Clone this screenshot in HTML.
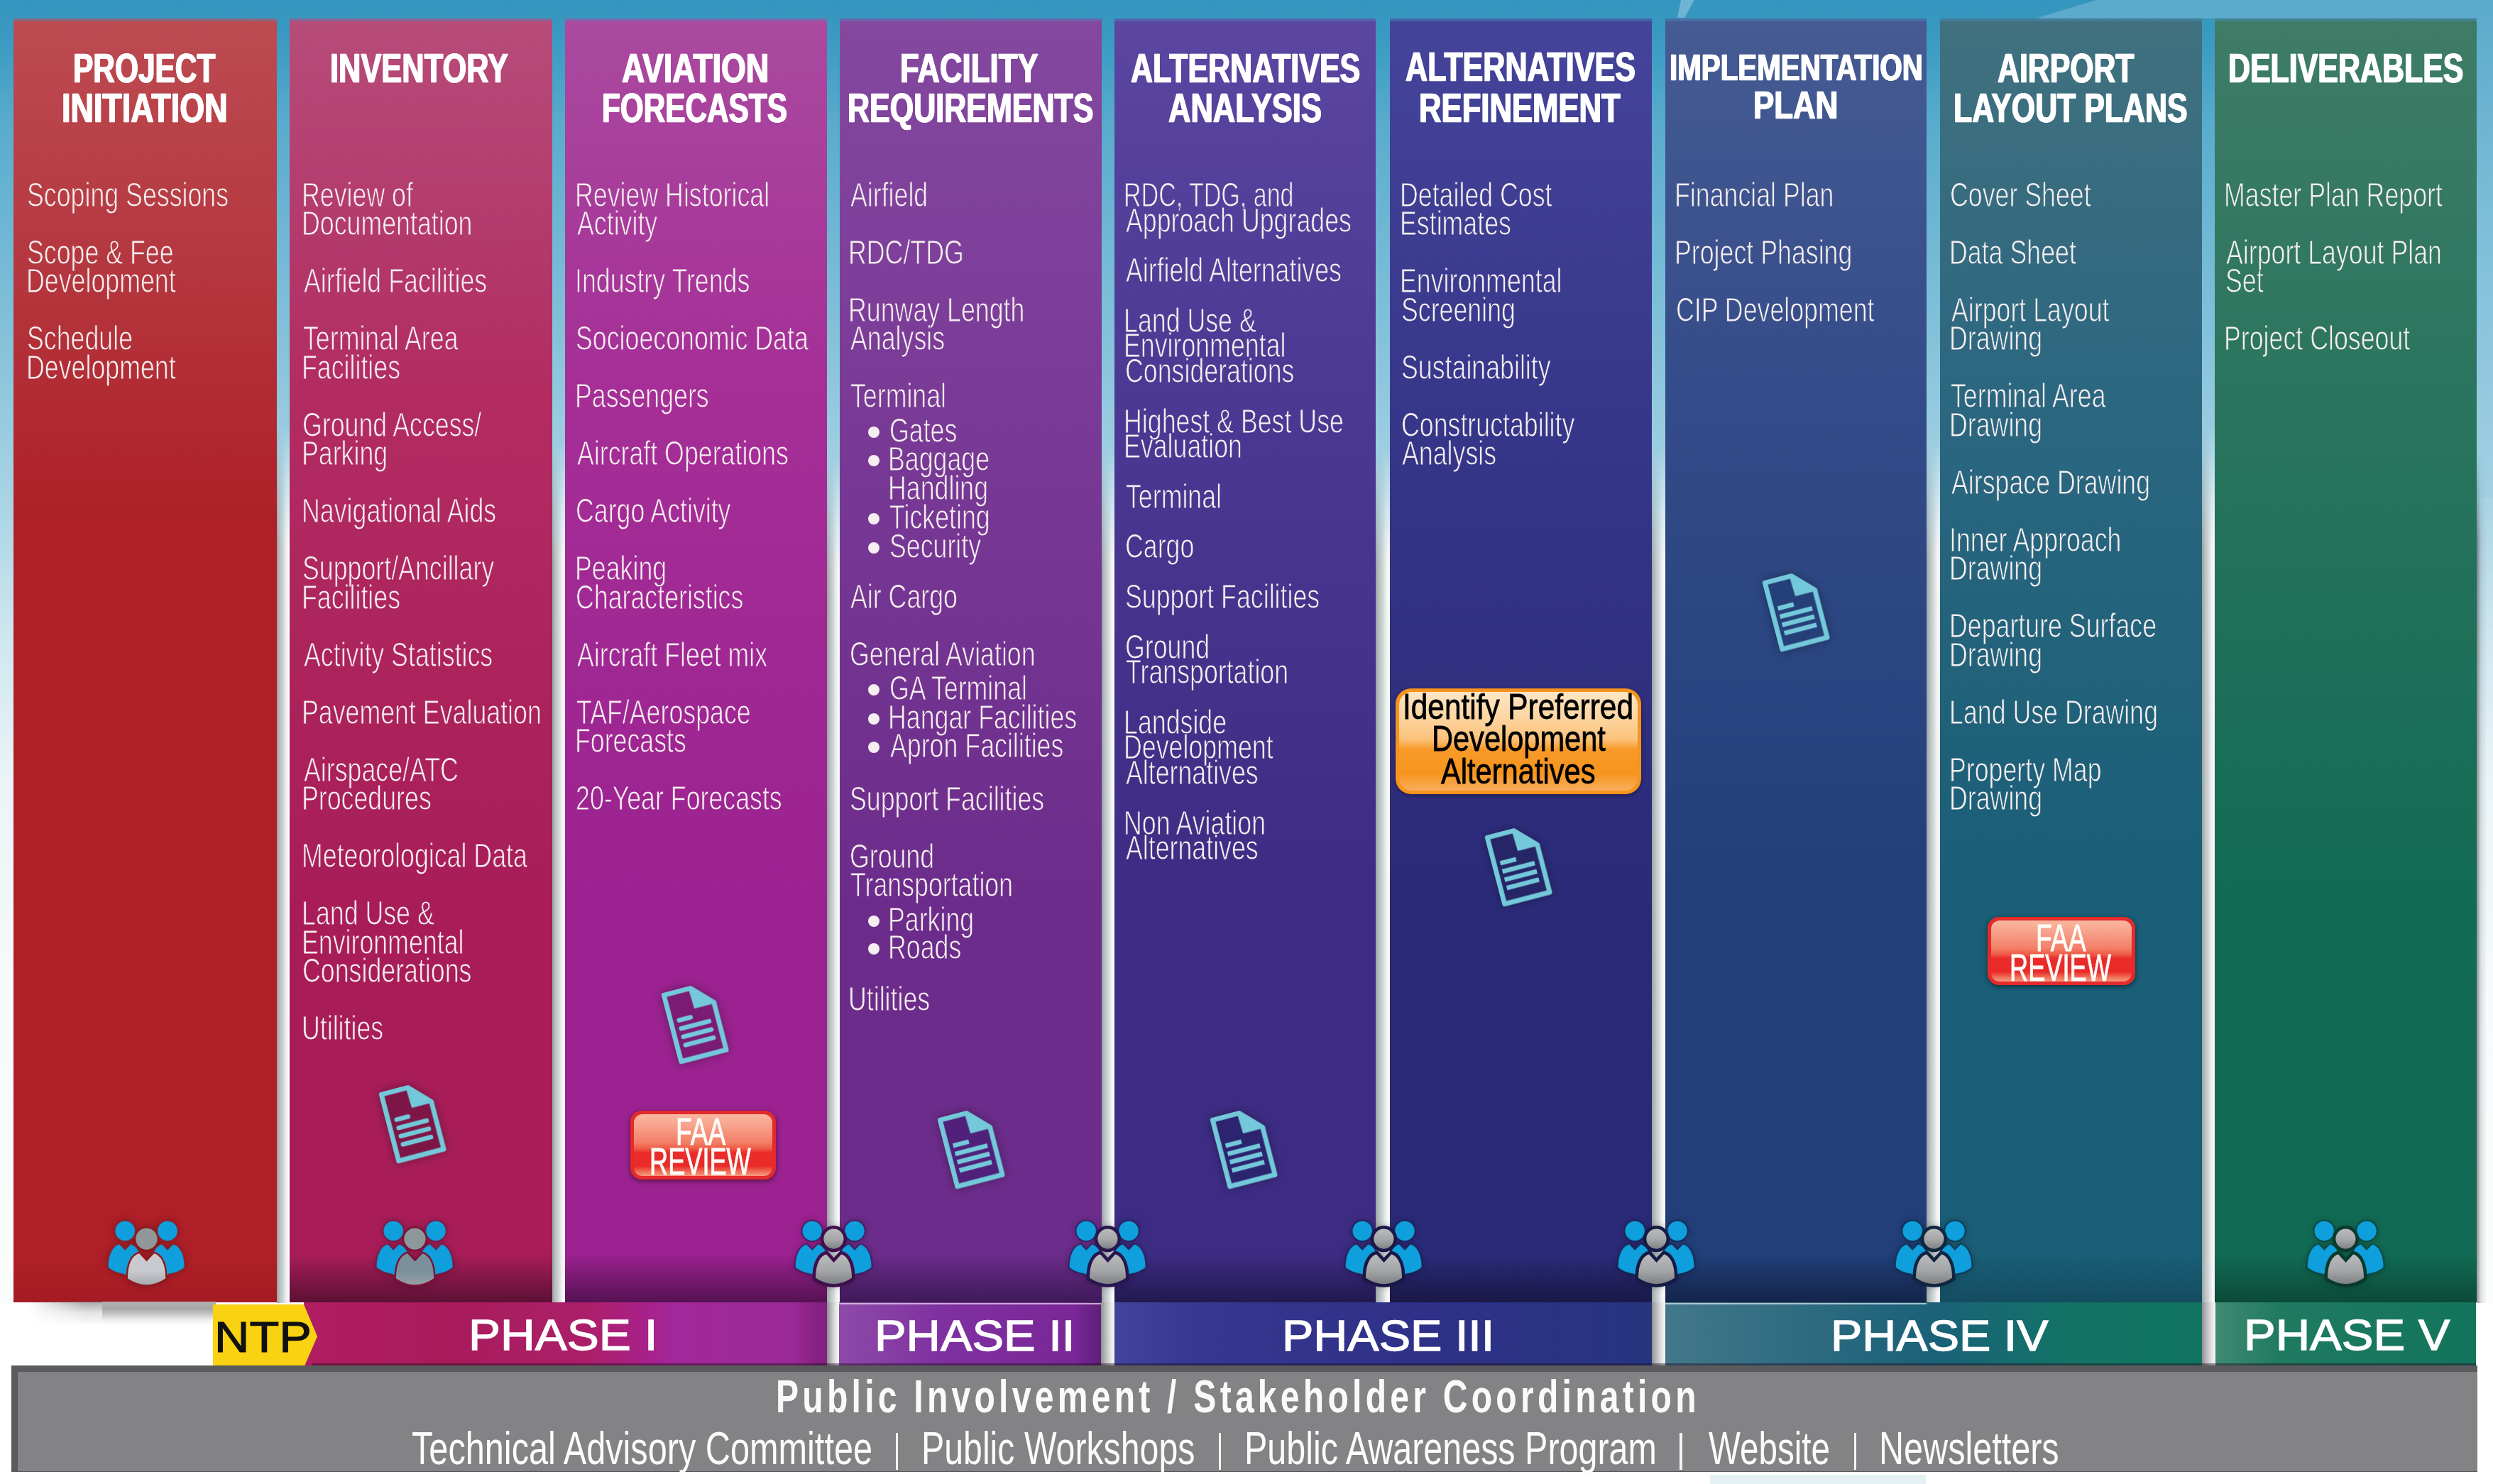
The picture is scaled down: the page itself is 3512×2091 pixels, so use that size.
<!DOCTYPE html><html><head><meta charset="utf-8"><style>
html,body{margin:0;padding:0;}
body{width:3512px;height:2091px;position:relative;overflow:hidden;background:#fff;font-family:"Liberation Sans", sans-serif;}
.t{position:absolute;white-space:nowrap;line-height:1;transform-origin:0 0;}
.a{position:absolute;}
</style></head><body>
<div class="a" style="left:0;top:0;width:3512px;height:1836px;background:linear-gradient(180deg,#3495be 0px,#3898c0 40px,#45a1c6 100px,#58abcc 170px,#6bb5d3 300px,#80c0d9 450px,#95cadf 580px,#abd5e5 720px,#cfe7f0 900px,#eaf4f7 1100px,#f6fafb 1400px,#fbfcfc 1836px);"></div>
<div class="a" style="left:0;top:0;width:3512px;height:700px;background:linear-gradient(180deg,#5aaacb,#7cbdd8 300px,#a2d0e2 700px);clip-path:polygon(2953px 0,3512px 0,3512px 700px,3480px 700px,3480px 26px,2868px 26px);"></div>
<div class="a" style="left:0;top:0;width:2400px;height:26px;background:#6db5d3;clip-path:polygon(2368px 0,2387px 0,2373px 25px,2363px 25px);"></div>
<div class="a" style="left:390px;top:600px;width:18px;height:1236px;background:linear-gradient(90deg,#9aa3a3 0%,#b9c1c1 25%,#cfd6d6 50%,#eceeee 72%,#fdfafc 92%,#f4f0f2 100%);mask-image:linear-gradient(180deg,transparent 0px,#000 170px);-webkit-mask-image:linear-gradient(180deg,transparent 0px,#000 170px);"></div>
<div class="a" style="left:778px;top:620px;width:18px;height:1216px;background:linear-gradient(90deg,#9aa3a3 0%,#b9c1c1 25%,#cfd6d6 50%,#eceeee 72%,#fdfafc 92%,#f4f0f2 100%);mask-image:linear-gradient(180deg,transparent 0px,#000 170px);-webkit-mask-image:linear-gradient(180deg,transparent 0px,#000 170px);"></div>
<div class="a" style="left:1165px;top:640px;width:18px;height:1285px;background:linear-gradient(90deg,#9aa3a3 0%,#b9c1c1 25%,#cfd6d6 50%,#eceeee 72%,#fdfafc 92%,#f4f0f2 100%);mask-image:linear-gradient(180deg,transparent 0px,#000 170px);-webkit-mask-image:linear-gradient(180deg,transparent 0px,#000 170px);"></div>
<div class="a" style="left:1552px;top:630px;width:18px;height:1295px;background:linear-gradient(90deg,#9aa3a3 0%,#b9c1c1 25%,#cfd6d6 50%,#eceeee 72%,#fdfafc 92%,#f4f0f2 100%);mask-image:linear-gradient(180deg,transparent 0px,#000 170px);-webkit-mask-image:linear-gradient(180deg,transparent 0px,#000 170px);"></div>
<div class="a" style="left:1938px;top:630px;width:20px;height:1206px;background:linear-gradient(90deg,#9aa3a3 0%,#b9c1c1 25%,#cfd6d6 50%,#eceeee 72%,#fdfafc 92%,#f4f0f2 100%);mask-image:linear-gradient(180deg,transparent 0px,#000 170px);-webkit-mask-image:linear-gradient(180deg,transparent 0px,#000 170px);"></div>
<div class="a" style="left:2327px;top:630px;width:19px;height:1295px;background:linear-gradient(90deg,#9aa3a3 0%,#b9c1c1 25%,#cfd6d6 50%,#eceeee 72%,#fdfafc 92%,#f4f0f2 100%);mask-image:linear-gradient(180deg,transparent 0px,#000 170px);-webkit-mask-image:linear-gradient(180deg,transparent 0px,#000 170px);"></div>
<div class="a" style="left:2714px;top:620px;width:19px;height:1216px;background:linear-gradient(90deg,#9aa3a3 0%,#b9c1c1 25%,#cfd6d6 50%,#eceeee 72%,#fdfafc 92%,#f4f0f2 100%);mask-image:linear-gradient(180deg,transparent 0px,#000 170px);-webkit-mask-image:linear-gradient(180deg,transparent 0px,#000 170px);"></div>
<div class="a" style="left:3102px;top:600px;width:18px;height:1325px;background:linear-gradient(90deg,#9aa3a3 0%,#b9c1c1 25%,#cfd6d6 50%,#eceeee 72%,#fdfafc 92%,#f4f0f2 100%);mask-image:linear-gradient(180deg,transparent 0px,#000 170px);-webkit-mask-image:linear-gradient(180deg,transparent 0px,#000 170px);"></div>
<div class="a" style="left:3489px;top:640px;width:14px;height:1196px;background:linear-gradient(90deg,rgba(60,60,60,0.55),rgba(120,120,120,0.2) 6px,rgba(255,255,255,0) 14px);-webkit-mask-image:linear-gradient(180deg,transparent 0,#000 120px);mask-image:linear-gradient(180deg,transparent 0,#000 120px);"></div>
<div class="a" style="left:19px;top:26px;width:371px;height:1809px;background:linear-gradient(180deg,#bd4b52 0px,#b53840 330px,#ae1f27 720px,#ae1f27 1749px,#a51b23 1809px);"></div>
<div class="a" style="left:408px;top:26px;width:370px;height:1809px;background:linear-gradient(180deg,#b64c79 0px,#b22c62 520px,#a81d58 1250px,#a81d58 1741px,#5c1034 1809px);"></div>
<div class="a" style="left:796px;top:26px;width:369px;height:1809px;background:linear-gradient(180deg,#aa4a9f 0px,#a52e97 520px,#9b2290 1250px,#9b2290 1741px,#561252 1809px);"></div>
<div class="a" style="left:1183px;top:26px;width:369px;height:1809px;background:linear-gradient(180deg,#84489f 0px,#7a3b97 520px,#6c2c8b 1250px,#6c2c8b 1741px,#3e1a58 1809px);"></div>
<div class="a" style="left:1570px;top:26px;width:368px;height:1809px;background:linear-gradient(180deg,#5b46a1 0px,#4b3993 520px,#3d2c84 1250px,#3d2c84 1741px,#22194f 1809px);"></div>
<div class="a" style="left:1958px;top:26px;width:369px;height:1809px;background:linear-gradient(180deg,#45449b 0px,#37378b 520px,#2b2a79 1250px,#2b2a79 1741px,#191846 1809px);"></div>
<div class="a" style="left:2346px;top:26px;width:368px;height:1809px;background:linear-gradient(180deg,#465b93 0px,#344c89 520px,#223f7a 1250px,#223f7a 1741px,#14244a 1809px);"></div>
<div class="a" style="left:2733px;top:26px;width:369px;height:1809px;background:linear-gradient(180deg,#41717f 0px,#2c6780 520px,#1a5e77 1250px,#1a5e77 1741px,#144c60 1809px);"></div>
<div class="a" style="left:3120px;top:26px;width:369px;height:1809px;background:linear-gradient(180deg,#3f7c68 0px,#2b755e 520px,#116b54 1250px,#116b54 1741px,#0c4a38 1809px);"></div>
<div class="a" style="left:19px;top:26px;width:371px;height:4px;background:rgba(70,140,190,0.45);"></div>
<div class="a" style="left:408px;top:26px;width:370px;height:4px;background:rgba(70,140,190,0.45);"></div>
<div class="a" style="left:796px;top:26px;width:369px;height:4px;background:rgba(70,140,190,0.45);"></div>
<div class="a" style="left:1183px;top:26px;width:369px;height:4px;background:rgba(70,140,190,0.45);"></div>
<div class="a" style="left:1570px;top:26px;width:368px;height:4px;background:rgba(70,140,190,0.45);"></div>
<div class="a" style="left:1958px;top:26px;width:369px;height:4px;background:rgba(70,140,190,0.45);"></div>
<div class="a" style="left:2346px;top:26px;width:368px;height:4px;background:rgba(70,140,190,0.45);"></div>
<div class="a" style="left:2733px;top:26px;width:369px;height:4px;background:rgba(70,140,190,0.45);"></div>
<div class="a" style="left:3120px;top:26px;width:369px;height:4px;background:rgba(70,140,190,0.45);"></div>
<div class="a" style="left:40px;top:1834px;width:110px;height:40px;background:linear-gradient(180deg,rgba(110,110,110,0.6),rgba(150,150,150,0.25) 16px,rgba(255,255,255,0) 34px);-webkit-mask-image:linear-gradient(90deg,transparent,#000 80px);mask-image:linear-gradient(90deg,transparent,#000 80px);"></div>
<div class="a" style="left:144px;top:1834px;width:160px;height:38px;background:linear-gradient(180deg,#b5b0b2 0px,#a5a8a6 10px,#c8c8c8 18px,#efefef 26px,#ffffff 34px);"></div>
<div class="t" style="left:102.8px;top:66.9px;font-size:58px;font-weight:bold;color:#ffffff;transform:scaleX(0.7316);text-shadow:1px 0 0 #fff,-1px 0 0 #fff;-webkit-text-stroke:0.5px #fff;">PROJECT</div>
<div class="t" style="left:87.0px;top:122.9px;font-size:58px;font-weight:bold;color:#ffffff;transform:scaleX(0.7738);text-shadow:1px 0 0 #fff,-1px 0 0 #fff;-webkit-text-stroke:0.5px #fff;">INITIATION</div>
<div class="t" style="left:464.9px;top:67.4px;font-size:58px;font-weight:bold;color:#ffffff;transform:scaleX(0.7485);text-shadow:1px 0 0 #fff,-1px 0 0 #fff;-webkit-text-stroke:0.5px #fff;">INVENTORY</div>
<div class="t" style="left:875.6px;top:66.9px;font-size:58px;font-weight:bold;color:#ffffff;transform:scaleX(0.7716);text-shadow:1px 0 0 #fff,-1px 0 0 #fff;-webkit-text-stroke:0.5px #fff;">AVIATION</div>
<div class="t" style="left:847.7px;top:122.9px;font-size:58px;font-weight:bold;color:#ffffff;transform:scaleX(0.7293);text-shadow:1px 0 0 #fff,-1px 0 0 #fff;-webkit-text-stroke:0.5px #fff;">FORECASTS</div>
<div class="t" style="left:1268.0px;top:66.9px;font-size:58px;font-weight:bold;color:#ffffff;transform:scaleX(0.7549);text-shadow:1px 0 0 #fff,-1px 0 0 #fff;-webkit-text-stroke:0.5px #fff;">FACILITY</div>
<div class="t" style="left:1194.2px;top:122.9px;font-size:58px;font-weight:bold;color:#ffffff;transform:scaleX(0.7414);text-shadow:1px 0 0 #fff,-1px 0 0 #fff;-webkit-text-stroke:0.5px #fff;">REQUIREMENTS</div>
<div class="t" style="left:1592.6px;top:66.9px;font-size:58px;font-weight:bold;color:#ffffff;transform:scaleX(0.7413);text-shadow:1px 0 0 #fff,-1px 0 0 #fff;-webkit-text-stroke:0.5px #fff;">ALTERNATIVES</div>
<div class="t" style="left:1645.9px;top:122.9px;font-size:58px;font-weight:bold;color:#ffffff;transform:scaleX(0.7498);text-shadow:1px 0 0 #fff,-1px 0 0 #fff;-webkit-text-stroke:0.5px #fff;">ANALYSIS</div>
<div class="t" style="left:1979.5px;top:64.9px;font-size:58px;font-weight:bold;color:#ffffff;transform:scaleX(0.7432);text-shadow:1px 0 0 #fff,-1px 0 0 #fff;-webkit-text-stroke:0.5px #fff;">ALTERNATIVES</div>
<div class="t" style="left:1998.9px;top:122.9px;font-size:58px;font-weight:bold;color:#ffffff;transform:scaleX(0.7527);text-shadow:1px 0 0 #fff,-1px 0 0 #fff;-webkit-text-stroke:0.5px #fff;">REFINEMENT</div>
<div class="t" style="left:2351.7px;top:68.7px;font-size:52px;font-weight:bold;color:#ffffff;transform:scaleX(0.7753);text-shadow:1px 0 0 #fff,-1px 0 0 #fff;-webkit-text-stroke:0.5px #fff;">IMPLEMENTATION</div>
<div class="t" style="left:2469.7px;top:120.0px;font-size:56px;font-weight:bold;color:#ffffff;transform:scaleX(0.7821);text-shadow:1px 0 0 #fff,-1px 0 0 #fff;-webkit-text-stroke:0.5px #fff;">PLAN</div>
<div class="t" style="left:2814.0px;top:66.9px;font-size:58px;font-weight:bold;color:#ffffff;transform:scaleX(0.7375);text-shadow:1px 0 0 #fff,-1px 0 0 #fff;-webkit-text-stroke:0.5px #fff;">AIRPORT</div>
<div class="t" style="left:2752.4px;top:122.9px;font-size:58px;font-weight:bold;color:#ffffff;transform:scaleX(0.7391);text-shadow:1px 0 0 #fff,-1px 0 0 #fff;-webkit-text-stroke:0.5px #fff;">LAYOUT PLANS</div>
<div class="t" style="left:3139.0px;top:66.9px;font-size:58px;font-weight:bold;color:#ffffff;transform:scaleX(0.7398);text-shadow:1px 0 0 #fff,-1px 0 0 #fff;-webkit-text-stroke:0.5px #fff;">DELIVERABLES</div>
<div class="t" style="left:38.3px;top:250.8px;font-size:48px;color:#f6eff0;transform:scaleX(0.7446);-webkit-text-stroke:1.0px #b73d44;">Scoping Sessions</div>
<div class="t" style="left:38.3px;top:331.8px;font-size:48px;color:#f6eff0;transform:scaleX(0.7446);-webkit-text-stroke:1.0px #b53840;">Scope &amp; Fee</div>
<div class="t" style="left:36.8px;top:372.3px;font-size:48px;color:#f6eff0;transform:scaleX(0.7446);-webkit-text-stroke:1.0px #b4353d;">Development</div>
<div class="t" style="left:38.3px;top:453.3px;font-size:48px;color:#f6eff0;transform:scaleX(0.7446);-webkit-text-stroke:1.0px #b33038;">Schedule</div>
<div class="t" style="left:36.8px;top:493.8px;font-size:48px;color:#f6eff0;transform:scaleX(0.7446);-webkit-text-stroke:1.0px #b22e36;">Development</div>
<div class="t" style="left:424.5px;top:250.8px;font-size:48px;color:#f6eff0;transform:scaleX(0.7446);-webkit-text-stroke:1.0px #b43d6e;">Review of</div>
<div class="t" style="left:424.5px;top:291.3px;font-size:48px;color:#f6eff0;transform:scaleX(0.7446);-webkit-text-stroke:1.0px #b43a6c;">Documentation</div>
<div class="t" style="left:427.5px;top:372.3px;font-size:48px;color:#f6eff0;transform:scaleX(0.7446);-webkit-text-stroke:1.0px #b33569;">Airfield Facilities</div>
<div class="t" style="left:426.8px;top:453.3px;font-size:48px;color:#f6eff0;transform:scaleX(0.7446);-webkit-text-stroke:1.0px #b33065;">Terminal Area</div>
<div class="t" style="left:424.5px;top:493.8px;font-size:48px;color:#f6eff0;transform:scaleX(0.7446);-webkit-text-stroke:1.0px #b22e63;">Facilities</div>
<div class="t" style="left:426.0px;top:574.8px;font-size:48px;color:#f6eff0;transform:scaleX(0.7446);-webkit-text-stroke:1.0px #b12b61;">Ground Access/</div>
<div class="t" style="left:424.5px;top:615.3px;font-size:48px;color:#f6eff0;transform:scaleX(0.7446);-webkit-text-stroke:1.0px #b12a61;">Parking</div>
<div class="t" style="left:424.5px;top:696.3px;font-size:48px;color:#f6eff0;transform:scaleX(0.7446);-webkit-text-stroke:1.0px #b02860;">Navigational Aids</div>
<div class="t" style="left:426.0px;top:777.3px;font-size:48px;color:#f6eff0;transform:scaleX(0.7446);-webkit-text-stroke:1.0px #ae275e;">Support/Ancillary</div>
<div class="t" style="left:424.5px;top:817.8px;font-size:48px;color:#f6eff0;transform:scaleX(0.7446);-webkit-text-stroke:1.0px #ae265e;">Facilities</div>
<div class="t" style="left:427.5px;top:898.8px;font-size:48px;color:#f6eff0;transform:scaleX(0.7446);-webkit-text-stroke:1.0px #ad245d;">Activity Statistics</div>
<div class="t" style="left:424.5px;top:979.8px;font-size:48px;color:#f6eff0;transform:scaleX(0.7446);-webkit-text-stroke:1.0px #ac235c;">Pavement Evaluation</div>
<div class="t" style="left:427.5px;top:1060.8px;font-size:48px;color:#f6eff0;transform:scaleX(0.7446);-webkit-text-stroke:1.0px #ab215b;">Airspace/ATC</div>
<div class="t" style="left:424.5px;top:1101.3px;font-size:48px;color:#f6eff0;transform:scaleX(0.7446);-webkit-text-stroke:1.0px #aa205a;">Procedures</div>
<div class="t" style="left:424.5px;top:1182.3px;font-size:48px;color:#f6eff0;transform:scaleX(0.7446);-webkit-text-stroke:1.0px #a91e59;">Meteorological Data</div>
<div class="t" style="left:424.5px;top:1263.3px;font-size:48px;color:#f6eff0;transform:scaleX(0.7446);-webkit-text-stroke:1.0px #a81d58;">Land Use &amp;</div>
<div class="t" style="left:424.5px;top:1303.8px;font-size:48px;color:#f6eff0;transform:scaleX(0.7446);-webkit-text-stroke:1.0px #a81d58;">Environmental</div>
<div class="t" style="left:426.0px;top:1344.3px;font-size:48px;color:#f6eff0;transform:scaleX(0.7446);-webkit-text-stroke:1.0px #a81d58;">Considerations</div>
<div class="t" style="left:424.5px;top:1425.3px;font-size:48px;color:#f6eff0;transform:scaleX(0.7446);-webkit-text-stroke:1.0px #a81d58;">Utilities</div>
<div class="t" style="left:809.6px;top:250.8px;font-size:48px;color:#f6eff0;transform:scaleX(0.7446);-webkit-text-stroke:1.0px #a83d9b;">Review Historical</div>
<div class="t" style="left:812.6px;top:291.3px;font-size:48px;color:#f6eff0;transform:scaleX(0.7446);-webkit-text-stroke:1.0px #a73a9b;">Activity</div>
<div class="t" style="left:809.6px;top:372.3px;font-size:48px;color:#f6eff0;transform:scaleX(0.7446);-webkit-text-stroke:1.0px #a63699;">Industry Trends</div>
<div class="t" style="left:811.1px;top:453.3px;font-size:48px;color:#f6eff0;transform:scaleX(0.7446);-webkit-text-stroke:1.0px #a63298;">Socioeconomic Data</div>
<div class="t" style="left:809.6px;top:534.3px;font-size:48px;color:#f6eff0;transform:scaleX(0.7446);-webkit-text-stroke:1.0px #a52e97;">Passengers</div>
<div class="t" style="left:812.6px;top:615.3px;font-size:48px;color:#f6eff0;transform:scaleX(0.7446);-webkit-text-stroke:1.0px #a42c96;">Aircraft Operations</div>
<div class="t" style="left:811.1px;top:696.3px;font-size:48px;color:#f6eff0;transform:scaleX(0.7446);-webkit-text-stroke:1.0px #a32b95;">Cargo Activity</div>
<div class="t" style="left:809.6px;top:777.3px;font-size:48px;color:#f6eff0;transform:scaleX(0.7446);-webkit-text-stroke:1.0px #a12a95;">Peaking</div>
<div class="t" style="left:811.1px;top:817.8px;font-size:48px;color:#f6eff0;transform:scaleX(0.7446);-webkit-text-stroke:1.0px #a12994;">Characteristics</div>
<div class="t" style="left:812.6px;top:898.8px;font-size:48px;color:#f6eff0;transform:scaleX(0.7446);-webkit-text-stroke:1.0px #a02893;">Aircraft Fleet mix</div>
<div class="t" style="left:811.9px;top:979.8px;font-size:48px;color:#f6eff0;transform:scaleX(0.7446);-webkit-text-stroke:1.0px #9f2693;">TAF/Aerospace</div>
<div class="t" style="left:809.6px;top:1020.3px;font-size:48px;color:#f6eff0;transform:scaleX(0.7446);-webkit-text-stroke:1.0px #9e2692;">Forecasts</div>
<div class="t" style="left:811.1px;top:1101.3px;font-size:48px;color:#f6eff0;transform:scaleX(0.7446);-webkit-text-stroke:1.0px #9d2491;">20-Year Forecasts</div>
<div class="t" style="left:1583.4px;top:251.2px;font-size:48px;color:#f6eff0;transform:scaleX(0.7088);-webkit-text-stroke:1.0px #53409a;">RDC, TDG, and</div>
<div class="t" style="left:1586.2px;top:286.5px;font-size:48px;color:#f6eff0;transform:scaleX(0.7446);-webkit-text-stroke:1.0px #523f99;">Approach Upgrades</div>
<div class="t" style="left:1586.2px;top:357.3px;font-size:48px;color:#f6eff0;transform:scaleX(0.7446);-webkit-text-stroke:1.0px #503d97;">Airfield Alternatives</div>
<div class="t" style="left:1583.2px;top:428.1px;font-size:48px;color:#f6eff0;transform:scaleX(0.7446);-webkit-text-stroke:1.0px #4e3b95;">Land Use &amp;</div>
<div class="t" style="left:1583.2px;top:463.4px;font-size:48px;color:#f6eff0;transform:scaleX(0.7446);-webkit-text-stroke:1.0px #4d3a95;">Environmental</div>
<div class="t" style="left:1584.7px;top:498.7px;font-size:48px;color:#f6eff0;transform:scaleX(0.7446);-webkit-text-stroke:1.0px #4c3a94;">Considerations</div>
<div class="t" style="left:1583.2px;top:569.5px;font-size:48px;color:#f6eff0;transform:scaleX(0.7446);-webkit-text-stroke:1.0px #4a3892;">Highest &amp; Best Use</div>
<div class="t" style="left:1583.2px;top:604.8px;font-size:48px;color:#f6eff0;transform:scaleX(0.7446);-webkit-text-stroke:1.0px #493791;">Evaluation</div>
<div class="t" style="left:1585.5px;top:675.6px;font-size:48px;color:#f6eff0;transform:scaleX(0.7446);-webkit-text-stroke:1.0px #483690;">Terminal</div>
<div class="t" style="left:1584.7px;top:746.4px;font-size:48px;color:#f6eff0;transform:scaleX(0.7446);-webkit-text-stroke:1.0px #47358e;">Cargo</div>
<div class="t" style="left:1584.7px;top:817.2px;font-size:48px;color:#f6eff0;transform:scaleX(0.7446);-webkit-text-stroke:1.0px #45348d;">Support Facilities</div>
<div class="t" style="left:1584.7px;top:888.0px;font-size:48px;color:#f6eff0;transform:scaleX(0.7446);-webkit-text-stroke:1.0px #44328b;">Ground</div>
<div class="t" style="left:1585.5px;top:923.3px;font-size:48px;color:#f6eff0;transform:scaleX(0.7446);-webkit-text-stroke:1.0px #43328b;">Transportation</div>
<div class="t" style="left:1583.2px;top:994.1px;font-size:48px;color:#f6eff0;transform:scaleX(0.7446);-webkit-text-stroke:1.0px #423189;">Landside</div>
<div class="t" style="left:1583.2px;top:1029.4px;font-size:48px;color:#f6eff0;transform:scaleX(0.7446);-webkit-text-stroke:1.0px #413089;">Development</div>
<div class="t" style="left:1586.2px;top:1064.7px;font-size:48px;color:#f6eff0;transform:scaleX(0.7446);-webkit-text-stroke:1.0px #412f88;">Alternatives</div>
<div class="t" style="left:1583.2px;top:1135.5px;font-size:48px;color:#f6eff0;transform:scaleX(0.7446);-webkit-text-stroke:1.0px #3f2e86;">Non Aviation</div>
<div class="t" style="left:1586.2px;top:1170.8px;font-size:48px;color:#f6eff0;transform:scaleX(0.7446);-webkit-text-stroke:1.0px #3f2d86;">Alternatives</div>
<div class="t" style="left:1972.2px;top:250.8px;font-size:48px;color:#f6eff0;transform:scaleX(0.7446);-webkit-text-stroke:1.0px #3e3e93;">Detailed Cost</div>
<div class="t" style="left:1972.2px;top:291.3px;font-size:48px;color:#f6eff0;transform:scaleX(0.7446);-webkit-text-stroke:1.0px #3d3d92;">Estimates</div>
<div class="t" style="left:1972.2px;top:372.3px;font-size:48px;color:#f6eff0;transform:scaleX(0.7446);-webkit-text-stroke:1.0px #3b3b90;">Environmental</div>
<div class="t" style="left:1973.7px;top:412.8px;font-size:48px;color:#f6eff0;transform:scaleX(0.7446);-webkit-text-stroke:1.0px #3a3a8e;">Screening</div>
<div class="t" style="left:1973.7px;top:493.8px;font-size:48px;color:#f6eff0;transform:scaleX(0.7446);-webkit-text-stroke:1.0px #38388c;">Sustainability</div>
<div class="t" style="left:1973.7px;top:574.8px;font-size:48px;color:#f6eff0;transform:scaleX(0.7446);-webkit-text-stroke:1.0px #36368a;">Constructability</div>
<div class="t" style="left:1975.2px;top:615.3px;font-size:48px;color:#f6eff0;transform:scaleX(0.7446);-webkit-text-stroke:1.0px #353589;">Analysis</div>
<div class="t" style="left:2359.0px;top:250.8px;font-size:48px;color:#f6eff0;transform:scaleX(0.7446);-webkit-text-stroke:1.0px #3d548e;">Financial Plan</div>
<div class="t" style="left:2359.0px;top:331.8px;font-size:48px;color:#f6eff0;transform:scaleX(0.7446);-webkit-text-stroke:1.0px #3b518d;">Project Phasing</div>
<div class="t" style="left:2360.5px;top:412.8px;font-size:48px;color:#f6eff0;transform:scaleX(0.7446);-webkit-text-stroke:1.0px #384f8b;">CIP Development</div>
<div class="t" style="left:2747.4px;top:250.8px;font-size:48px;color:#f6eff0;transform:scaleX(0.7446);-webkit-text-stroke:1.0px #376c7f;">Cover Sheet</div>
<div class="t" style="left:2745.9px;top:331.8px;font-size:48px;color:#f6eff0;transform:scaleX(0.7446);-webkit-text-stroke:1.0px #346b80;">Data Sheet</div>
<div class="t" style="left:2748.9px;top:412.8px;font-size:48px;color:#f6eff0;transform:scaleX(0.7446);-webkit-text-stroke:1.0px #306980;">Airport Layout</div>
<div class="t" style="left:2745.9px;top:453.3px;font-size:48px;color:#f6eff0;transform:scaleX(0.7446);-webkit-text-stroke:1.0px #2f6880;">Drawing</div>
<div class="t" style="left:2748.2px;top:534.3px;font-size:48px;color:#f6eff0;transform:scaleX(0.7446);-webkit-text-stroke:1.0px #2c6780;">Terminal Area</div>
<div class="t" style="left:2745.9px;top:574.8px;font-size:48px;color:#f6eff0;transform:scaleX(0.7446);-webkit-text-stroke:1.0px #2b667f;">Drawing</div>
<div class="t" style="left:2748.9px;top:655.8px;font-size:48px;color:#f6eff0;transform:scaleX(0.7446);-webkit-text-stroke:1.0px #29657e;">Airspace Drawing</div>
<div class="t" style="left:2745.9px;top:736.8px;font-size:48px;color:#f6eff0;transform:scaleX(0.7446);-webkit-text-stroke:1.0px #27647d;">Inner Approach</div>
<div class="t" style="left:2745.9px;top:777.3px;font-size:48px;color:#f6eff0;transform:scaleX(0.7446);-webkit-text-stroke:1.0px #26647d;">Drawing</div>
<div class="t" style="left:2745.9px;top:858.3px;font-size:48px;color:#f6eff0;transform:scaleX(0.7446);-webkit-text-stroke:1.0px #24637c;">Departure Surface</div>
<div class="t" style="left:2745.9px;top:898.8px;font-size:48px;color:#f6eff0;transform:scaleX(0.7446);-webkit-text-stroke:1.0px #23627b;">Drawing</div>
<div class="t" style="left:2745.9px;top:979.8px;font-size:48px;color:#f6eff0;transform:scaleX(0.7446);-webkit-text-stroke:1.0px #21617a;">Land Use Drawing</div>
<div class="t" style="left:2745.9px;top:1060.8px;font-size:48px;color:#f6eff0;transform:scaleX(0.7446);-webkit-text-stroke:1.0px #1f6079;">Property Map</div>
<div class="t" style="left:2745.9px;top:1101.3px;font-size:48px;color:#f6eff0;transform:scaleX(0.7446);-webkit-text-stroke:1.0px #1e6079;">Drawing</div>
<div class="t" style="left:3133.4px;top:250.8px;font-size:48px;color:#f6eff0;transform:scaleX(0.7446);-webkit-text-stroke:1.0px #357963;">Master Plan Report</div>
<div class="t" style="left:3136.4px;top:331.8px;font-size:48px;color:#f6eff0;transform:scaleX(0.7446);-webkit-text-stroke:1.0px #327862;">Airport Layout Plan</div>
<div class="t" style="left:3134.9px;top:372.3px;font-size:48px;color:#f6eff0;transform:scaleX(0.7446);-webkit-text-stroke:1.0px #317761;">Set</div>
<div class="t" style="left:3133.4px;top:453.3px;font-size:48px;color:#f6eff0;transform:scaleX(0.7446);-webkit-text-stroke:1.0px #2e765f;">Project Closeout</div>
<div class="t" style="left:1198.4px;top:250.8px;font-size:48px;color:#f6eff0;transform:scaleX(0.7446);-webkit-text-stroke:1.0px #7f429b;">Airfield</div>
<div class="t" style="left:1195.4px;top:332.2px;font-size:48px;color:#f6eff0;transform:scaleX(0.7446);-webkit-text-stroke:1.0px #7e409a;">RDC/TDG</div>
<div class="t" style="left:1195.4px;top:412.6px;font-size:48px;color:#f6eff0;transform:scaleX(0.7446);-webkit-text-stroke:1.0px #7c3e99;">Runway Length</div>
<div class="t" style="left:1198.4px;top:453.2px;font-size:48px;color:#f6eff0;transform:scaleX(0.7446);-webkit-text-stroke:1.0px #7b3d98;">Analysis</div>
<div class="t" style="left:1197.7px;top:534.0px;font-size:48px;color:#f6eff0;transform:scaleX(0.7446);-webkit-text-stroke:1.0px #7a3b97;">Terminal</div>
<div class="t" style="left:1252.5px;top:582.7px;font-size:48px;color:#f6eff0;transform:scaleX(0.7446);-webkit-text-stroke:1.0px #793a96;">Gates</div>
<div class="a" style="left:1223px;top:600.8px;width:16px;height:16px;border-radius:50%;background:#f6eff0;"></div>
<div class="t" style="left:1251.0px;top:622.8px;font-size:48px;color:#f6eff0;transform:scaleX(0.7446);-webkit-text-stroke:1.0px #783995;">Baggage</div>
<div class="a" style="left:1223px;top:640.9px;width:16px;height:16px;border-radius:50%;background:#f6eff0;"></div>
<div class="t" style="left:1251.0px;top:663.7px;font-size:48px;color:#f6eff0;transform:scaleX(0.7446);-webkit-text-stroke:1.0px #773895;">Handling</div>
<div class="t" style="left:1253.3px;top:705.2px;font-size:48px;color:#f6eff0;transform:scaleX(0.7446);-webkit-text-stroke:1.0px #763794;">Ticketing</div>
<div class="a" style="left:1223px;top:723.3px;width:16px;height:16px;border-radius:50%;background:#f6eff0;"></div>
<div class="t" style="left:1252.5px;top:745.6px;font-size:48px;color:#f6eff0;transform:scaleX(0.7446);-webkit-text-stroke:1.0px #763693;">Security</div>
<div class="a" style="left:1223px;top:763.7px;width:16px;height:16px;border-radius:50%;background:#f6eff0;"></div>
<div class="t" style="left:1198.4px;top:817.1px;font-size:48px;color:#f6eff0;transform:scaleX(0.7446);-webkit-text-stroke:1.0px #743592;">Air Cargo</div>
<div class="t" style="left:1196.9px;top:898.1px;font-size:48px;color:#f6eff0;transform:scaleX(0.7446);-webkit-text-stroke:1.0px #733391;">General Aviation</div>
<div class="t" style="left:1252.5px;top:946.3px;font-size:48px;color:#f6eff0;transform:scaleX(0.7446);-webkit-text-stroke:1.0px #723290;">GA Terminal</div>
<div class="a" style="left:1223px;top:964.4px;width:16px;height:16px;border-radius:50%;background:#f6eff0;"></div>
<div class="t" style="left:1251.0px;top:987.0px;font-size:48px;color:#f6eff0;transform:scaleX(0.7446);-webkit-text-stroke:1.0px #71318f;">Hangar Facilities</div>
<div class="a" style="left:1223px;top:1005.1px;width:16px;height:16px;border-radius:50%;background:#f6eff0;"></div>
<div class="t" style="left:1254.0px;top:1027.3px;font-size:48px;color:#f6eff0;transform:scaleX(0.7446);-webkit-text-stroke:1.0px #70318f;">Apron Facilities</div>
<div class="a" style="left:1223px;top:1045.4px;width:16px;height:16px;border-radius:50%;background:#f6eff0;"></div>
<div class="t" style="left:1196.9px;top:1101.7px;font-size:48px;color:#f6eff0;transform:scaleX(0.7446);-webkit-text-stroke:1.0px #6f2f8d;">Support Facilities</div>
<div class="t" style="left:1196.9px;top:1182.7px;font-size:48px;color:#f6eff0;transform:scaleX(0.7446);-webkit-text-stroke:1.0px #6d2d8c;">Ground</div>
<div class="t" style="left:1197.7px;top:1223.0px;font-size:48px;color:#f6eff0;transform:scaleX(0.7446);-webkit-text-stroke:1.0px #6d2d8b;">Transportation</div>
<div class="t" style="left:1251.0px;top:1271.6px;font-size:48px;color:#f6eff0;transform:scaleX(0.7446);-webkit-text-stroke:1.0px #6c2c8b;">Parking</div>
<div class="a" style="left:1223px;top:1289.7px;width:16px;height:16px;border-radius:50%;background:#f6eff0;"></div>
<div class="t" style="left:1251.0px;top:1311.0px;font-size:48px;color:#f6eff0;transform:scaleX(0.7446);-webkit-text-stroke:1.0px #6c2c8b;">Roads</div>
<div class="a" style="left:1223px;top:1329.1px;width:16px;height:16px;border-radius:50%;background:#f6eff0;"></div>
<div class="t" style="left:1195.4px;top:1384.2px;font-size:48px;color:#f6eff0;transform:scaleX(0.7446);-webkit-text-stroke:1.0px #6c2c8b;">Utilities</div>
<svg class="a" style="left:533.3px;top:1517.0px;overflow:visible;transform:rotate(-14.6deg);filter:drop-shadow(0 0 7px rgba(0,0,0,0.35));" width="96.4" height="127.4" viewBox="-12 -12 96.4 127.4"><path d="M3.4 3.4 H42 L69.0 31 V100.0 H3.4 Z" fill="#7d1646" stroke="#73c8d9" stroke-width="6.8" stroke-linejoin="round"/><path d="M40 1 L41 31.5 H71.4 Z" fill="#73c8d9" stroke="#73c8d9" stroke-width="2" stroke-linejoin="round"/><g stroke="#73c8d9" stroke-width="6.4" stroke-linecap="round"><line x1="15.2" y1="43" x2="31.8" y2="43"/><line x1="15.2" y1="55" x2="55.8" y2="55"/><line x1="15.2" y1="67" x2="55.8" y2="67"/><line x1="15.2" y1="79" x2="55.8" y2="79"/></g></svg>
<svg class="a" style="left:931.2px;top:1376.7px;overflow:visible;transform:rotate(-14.6deg);filter:drop-shadow(0 0 7px rgba(0,0,0,0.35));" width="96.4" height="127.4" viewBox="-12 -12 96.4 127.4"><path d="M3.4 3.4 H42 L69.0 31 V100.0 H3.4 Z" fill="#7b1b74" stroke="#73c8d9" stroke-width="6.8" stroke-linejoin="round"/><path d="M40 1 L41 31.5 H71.4 Z" fill="#73c8d9" stroke="#73c8d9" stroke-width="2" stroke-linejoin="round"/><g stroke="#73c8d9" stroke-width="6.4" stroke-linecap="round"><line x1="15.2" y1="43" x2="31.8" y2="43"/><line x1="15.2" y1="55" x2="55.8" y2="55"/><line x1="15.2" y1="67" x2="55.8" y2="67"/><line x1="15.2" y1="79" x2="55.8" y2="79"/></g></svg>
<svg class="a" style="left:1320.3px;top:1553.0px;overflow:visible;transform:rotate(-14.6deg);filter:drop-shadow(0 0 7px rgba(0,0,0,0.35));" width="96.4" height="127.4" viewBox="-12 -12 96.4 127.4"><path d="M3.4 3.4 H42 L69.0 31 V100.0 H3.4 Z" fill="#50207a" stroke="#73c8d9" stroke-width="6.8" stroke-linejoin="round"/><path d="M40 1 L41 31.5 H71.4 Z" fill="#73c8d9" stroke="#73c8d9" stroke-width="2" stroke-linejoin="round"/><g stroke="#73c8d9" stroke-width="6.4" stroke-linecap="butt"><line x1="12" y1="43" x2="35" y2="43"/><line x1="12" y1="55" x2="59" y2="55"/><line x1="12" y1="67" x2="59" y2="67"/><line x1="12" y1="79" x2="59" y2="79"/></g></svg>
<svg class="a" style="left:1704.0px;top:1553.0px;overflow:visible;transform:rotate(-14.6deg);filter:drop-shadow(0 0 7px rgba(0,0,0,0.35));" width="96.4" height="127.4" viewBox="-12 -12 96.4 127.4"><path d="M3.4 3.4 H42 L69.0 31 V100.0 H3.4 Z" fill="#2d2470" stroke="#73c8d9" stroke-width="6.8" stroke-linejoin="round"/><path d="M40 1 L41 31.5 H71.4 Z" fill="#73c8d9" stroke="#73c8d9" stroke-width="2" stroke-linejoin="round"/><g stroke="#73c8d9" stroke-width="6.4" stroke-linecap="butt"><line x1="12" y1="43" x2="35" y2="43"/><line x1="12" y1="55" x2="59" y2="55"/><line x1="12" y1="67" x2="59" y2="67"/><line x1="12" y1="79" x2="59" y2="79"/></g></svg>
<svg class="a" style="left:2090.7px;top:1154.8px;overflow:visible;transform:rotate(-14.6deg);filter:drop-shadow(0 0 7px rgba(0,0,0,0.35));" width="96.4" height="127.4" viewBox="-12 -12 96.4 127.4"><path d="M3.4 3.4 H42 L69.0 31 V100.0 H3.4 Z" fill="#262566" stroke="#73c8d9" stroke-width="6.8" stroke-linejoin="round"/><path d="M40 1 L41 31.5 H71.4 Z" fill="#73c8d9" stroke="#73c8d9" stroke-width="2" stroke-linejoin="round"/><g stroke="#73c8d9" stroke-width="6.4" stroke-linecap="butt"><line x1="12" y1="43" x2="35" y2="43"/><line x1="12" y1="55" x2="59" y2="55"/><line x1="12" y1="67" x2="59" y2="67"/><line x1="12" y1="79" x2="59" y2="79"/></g></svg>
<svg class="a" style="left:2481.5px;top:795.6px;overflow:visible;transform:rotate(-14.6deg);filter:drop-shadow(0 0 7px rgba(0,0,0,0.35));" width="96.4" height="127.4" viewBox="-12 -12 96.4 127.4"><path d="M3.4 3.4 H42 L69.0 31 V100.0 H3.4 Z" fill="#253f78" stroke="#73c8d9" stroke-width="6.8" stroke-linejoin="round"/><path d="M40 1 L41 31.5 H71.4 Z" fill="#73c8d9" stroke="#73c8d9" stroke-width="2" stroke-linejoin="round"/><g stroke="#73c8d9" stroke-width="6.4" stroke-linecap="butt"><line x1="12" y1="43" x2="35" y2="43"/><line x1="12" y1="55" x2="59" y2="55"/><line x1="12" y1="67" x2="59" y2="67"/><line x1="12" y1="79" x2="59" y2="79"/></g></svg>
<div class="a" style="left:888px;top:1565px;width:205px;height:97px;border-radius:16px;background:#e42a2b;box-shadow:0 2px 7px rgba(0,0,0,0.5);"></div>
<div class="a" style="left:893px;top:1570px;width:195px;height:87px;border-radius:12px;background:linear-gradient(180deg,#fab8a0 0%,#f7a08a 20%,#f38068 45%,#ef5a44 56%,#ea2c2a 62%,#e92a29 84%,#f07058 93%,#f79a80 100%);"></div>
<div class="t" style="left:951.9px;top:1568.1px;font-size:53px;color:#fffbf8;transform:scaleX(0.7010);-webkit-text-stroke:0.9px #fffbf8;">FAA</div>
<div class="t" style="left:915.3px;top:1610.1px;font-size:53px;color:#fffbf8;transform:scaleX(0.6829);-webkit-text-stroke:0.9px #fffbf8;">REVIEW</div>
<div class="a" style="left:2800px;top:1292px;width:208px;height:96px;border-radius:16px;background:#e42a2b;box-shadow:0 2px 7px rgba(0,0,0,0.5);"></div>
<div class="a" style="left:2805px;top:1297px;width:198px;height:86px;border-radius:12px;background:linear-gradient(180deg,#fab8a0 0%,#f7a08a 20%,#f38068 45%,#ef5a44 56%,#ea2c2a 62%,#e92a29 84%,#f07058 93%,#f79a80 100%);"></div>
<div class="t" style="left:2867.7px;top:1294.9px;font-size:53px;color:#fffbf8;transform:scaleX(0.7063);-webkit-text-stroke:0.9px #fffbf8;">FAA</div>
<div class="t" style="left:2831.2px;top:1336.8px;font-size:53px;color:#fffbf8;transform:scaleX(0.6834);-webkit-text-stroke:0.9px #fffbf8;">REVIEW</div>
<div class="a" style="left:1966px;top:970px;width:346px;height:149px;border-radius:22px;background:#f7941d;box-shadow:0 2px 6px rgba(0,0,0,0.4);"></div>
<div class="a" style="left:1971px;top:975px;width:336px;height:139px;border-radius:18px;background:linear-gradient(180deg,#fde6c6 0%,#fdd6a2 25%,#fbc27a 48%,#f89a2a 58%,#f7941d 82%,#f9ae5c 100%);"></div>
<div class="t" style="left:1976.3px;top:971.0px;font-size:50px;color:#000;transform:scaleX(0.8473);-webkit-text-stroke:0.8px #000;">Identify Preferred</div>
<div class="t" style="left:2016.7px;top:1015.9px;font-size:50px;color:#000;transform:scaleX(0.8310);-webkit-text-stroke:0.8px #000;">Development</div>
<div class="t" style="left:2030.0px;top:1062.4px;font-size:50px;color:#000;transform:scaleX(0.8327);-webkit-text-stroke:0.8px #000;">Alternatives</div>
<svg class="a" style="left:144.5px;top:1714.0px;overflow:visible;filter:drop-shadow(0 0 5px rgba(0,0,0,0.25))" width="122" height="106" viewBox="-6 -6 122 106"><defs><linearGradient id="gg205" x1="0" y1="0" x2="0" y2="1"><stop offset="0" stop-color="#c9cacf"/><stop offset="0.55" stop-color="#c9cacf"/><stop offset="1" stop-color="#a4a8ac"/></linearGradient></defs><g fill="#0f9fdc" stroke="#8e1a20" stroke-width="2" stroke-opacity="0.7"><circle cx="25.2" cy="14.4" r="14.6"/><circle cx="85" cy="14.4" r="14.6"/><path d="M0.8 66 C0.6 48 7 35 17.5 32.6 L25.2 40.6 L33 32.6 C43 35 50 48 50 70 Q28 80 23 75.5 Q8 73 0.8 66 Z"/><path d="M109.4 66 C109.6 48 103.2 35 92.7 32.6 L85 40.6 L77.2 32.6 C67.2 35 60.2 48 60.2 70 Q82.2 80 87.2 75.5 Q102.2 73 109.4 66 Z"/></g><g fill="url(#gg205)" stroke="#8e1a20" stroke-width="2.5"><circle cx="55.4" cy="25.6" r="16.4" fill="#8f9799"/><path d="M27.6 82 C27.6 60 34.5 47.2 45.6 44.8 L55.6 55.6 L65.6 44.8 C76.7 47.2 83.4 60 83.4 82 Q55.5 101 27.6 82 Z"/></g></svg>
<svg class="a" style="left:522.5px;top:1714.0px;overflow:visible;filter:drop-shadow(0 0 5px rgba(0,0,0,0.25))" width="122" height="106" viewBox="-6 -6 122 106"><defs><linearGradient id="gg583" x1="0" y1="0" x2="0" y2="1"><stop offset="0" stop-color="#7a909a"/><stop offset="0.55" stop-color="#7a909a"/><stop offset="1" stop-color="#9aa0a4"/></linearGradient></defs><g fill="#0f9fdc" stroke="#7a1238" stroke-width="2" stroke-opacity="0.7"><circle cx="25.2" cy="14.4" r="14.6"/><circle cx="85" cy="14.4" r="14.6"/><path d="M0.8 66 C0.6 48 7 35 17.5 32.6 L25.2 40.6 L33 32.6 C43 35 50 48 50 70 Q28 80 23 75.5 Q8 73 0.8 66 Z"/><path d="M109.4 66 C109.6 48 103.2 35 92.7 32.6 L85 40.6 L77.2 32.6 C67.2 35 60.2 48 60.2 70 Q82.2 80 87.2 75.5 Q102.2 73 109.4 66 Z"/></g><g fill="url(#gg583)" stroke="#7a1238" stroke-width="2.5"><circle cx="55.4" cy="25.6" r="16.4" fill="#8e989a"/><path d="M27.6 82 C27.6 60 34.5 47.2 45.6 44.8 L55.6 55.6 L65.6 44.8 C76.7 47.2 83.4 60 83.4 82 Q55.5 101 27.6 82 Z"/></g></svg>
<svg class="a" style="left:1113.0px;top:1714.0px;overflow:visible;filter:drop-shadow(0 0 5px rgba(0,0,0,0.25))" width="122" height="106" viewBox="-6 -6 122 106"><defs><linearGradient id="gg1174" x1="0" y1="0" x2="0" y2="1"><stop offset="0" stop-color="#bdbec0"/><stop offset="0.55" stop-color="#a3a5a7"/><stop offset="1" stop-color="#7a7c7f"/></linearGradient></defs><g fill="#0f9fdc" stroke="#3f0f4c" stroke-width="2" stroke-opacity="0.7"><circle cx="25.2" cy="14.4" r="14.6"/><circle cx="85" cy="14.4" r="14.6"/><path d="M0.8 66 C0.6 48 7 35 17.5 32.6 L25.2 40.6 L33 32.6 C43 35 50 48 50 70 Q28 80 23 75.5 Q8 73 0.8 66 Z"/><path d="M109.4 66 C109.6 48 103.2 35 92.7 32.6 L85 40.6 L77.2 32.6 C67.2 35 60.2 48 60.2 70 Q82.2 80 87.2 75.5 Q102.2 73 109.4 66 Z"/></g><g fill="url(#gg1174)" stroke="#3f0f4c" stroke-width="4.6"><circle cx="55.4" cy="25.6" r="16.4" /><path d="M27.6 82 C27.6 60 34.5 47.2 45.6 44.8 L55.6 55.6 L65.6 44.8 C76.7 47.2 83.4 60 83.4 82 Q55.5 101 27.6 82 Z"/></g></svg>
<svg class="a" style="left:1498.5px;top:1714.0px;overflow:visible;filter:drop-shadow(0 0 5px rgba(0,0,0,0.25))" width="122" height="106" viewBox="-6 -6 122 106"><defs><linearGradient id="gg1559" x1="0" y1="0" x2="0" y2="1"><stop offset="0" stop-color="#bdbec0"/><stop offset="0.55" stop-color="#a3a5a7"/><stop offset="1" stop-color="#7a7c7f"/></linearGradient></defs><g fill="#0f9fdc" stroke="#281650" stroke-width="2" stroke-opacity="0.7"><circle cx="25.2" cy="14.4" r="14.6"/><circle cx="85" cy="14.4" r="14.6"/><path d="M0.8 66 C0.6 48 7 35 17.5 32.6 L25.2 40.6 L33 32.6 C43 35 50 48 50 70 Q28 80 23 75.5 Q8 73 0.8 66 Z"/><path d="M109.4 66 C109.6 48 103.2 35 92.7 32.6 L85 40.6 L77.2 32.6 C67.2 35 60.2 48 60.2 70 Q82.2 80 87.2 75.5 Q102.2 73 109.4 66 Z"/></g><g fill="url(#gg1559)" stroke="#281650" stroke-width="4.6"><circle cx="55.4" cy="25.6" r="16.4" /><path d="M27.6 82 C27.6 60 34.5 47.2 45.6 44.8 L55.6 55.6 L65.6 44.8 C76.7 47.2 83.4 60 83.4 82 Q55.5 101 27.6 82 Z"/></g></svg>
<svg class="a" style="left:1888.4px;top:1714.0px;overflow:visible;filter:drop-shadow(0 0 5px rgba(0,0,0,0.25))" width="122" height="106" viewBox="-6 -6 122 106"><defs><linearGradient id="gg1949" x1="0" y1="0" x2="0" y2="1"><stop offset="0" stop-color="#bdbec0"/><stop offset="0.55" stop-color="#a3a5a7"/><stop offset="1" stop-color="#7a7c7f"/></linearGradient></defs><g fill="#0f9fdc" stroke="#1a1848" stroke-width="2" stroke-opacity="0.7"><circle cx="25.2" cy="14.4" r="14.6"/><circle cx="85" cy="14.4" r="14.6"/><path d="M0.8 66 C0.6 48 7 35 17.5 32.6 L25.2 40.6 L33 32.6 C43 35 50 48 50 70 Q28 80 23 75.5 Q8 73 0.8 66 Z"/><path d="M109.4 66 C109.6 48 103.2 35 92.7 32.6 L85 40.6 L77.2 32.6 C67.2 35 60.2 48 60.2 70 Q82.2 80 87.2 75.5 Q102.2 73 109.4 66 Z"/></g><g fill="url(#gg1949)" stroke="#1a1848" stroke-width="4.6"><circle cx="55.4" cy="25.6" r="16.4" /><path d="M27.6 82 C27.6 60 34.5 47.2 45.6 44.8 L55.6 55.6 L65.6 44.8 C76.7 47.2 83.4 60 83.4 82 Q55.5 101 27.6 82 Z"/></g></svg>
<svg class="a" style="left:2272.0px;top:1714.0px;overflow:visible;filter:drop-shadow(0 0 5px rgba(0,0,0,0.25))" width="122" height="106" viewBox="-6 -6 122 106"><defs><linearGradient id="gg2333" x1="0" y1="0" x2="0" y2="1"><stop offset="0" stop-color="#bdbec0"/><stop offset="0.55" stop-color="#a3a5a7"/><stop offset="1" stop-color="#7a7c7f"/></linearGradient></defs><g fill="#0f9fdc" stroke="#141c46" stroke-width="2" stroke-opacity="0.7"><circle cx="25.2" cy="14.4" r="14.6"/><circle cx="85" cy="14.4" r="14.6"/><path d="M0.8 66 C0.6 48 7 35 17.5 32.6 L25.2 40.6 L33 32.6 C43 35 50 48 50 70 Q28 80 23 75.5 Q8 73 0.8 66 Z"/><path d="M109.4 66 C109.6 48 103.2 35 92.7 32.6 L85 40.6 L77.2 32.6 C67.2 35 60.2 48 60.2 70 Q82.2 80 87.2 75.5 Q102.2 73 109.4 66 Z"/></g><g fill="url(#gg2333)" stroke="#141c46" stroke-width="4.6"><circle cx="55.4" cy="25.6" r="16.4" /><path d="M27.6 82 C27.6 60 34.5 47.2 45.6 44.8 L55.6 55.6 L65.6 44.8 C76.7 47.2 83.4 60 83.4 82 Q55.5 101 27.6 82 Z"/></g></svg>
<svg class="a" style="left:2663.3px;top:1714.0px;overflow:visible;filter:drop-shadow(0 0 5px rgba(0,0,0,0.25))" width="122" height="106" viewBox="-6 -6 122 106"><defs><linearGradient id="gg2724" x1="0" y1="0" x2="0" y2="1"><stop offset="0" stop-color="#bdbec0"/><stop offset="0.55" stop-color="#a3a5a7"/><stop offset="1" stop-color="#7a7c7f"/></linearGradient></defs><g fill="#0f9fdc" stroke="#0e2640" stroke-width="2" stroke-opacity="0.7"><circle cx="25.2" cy="14.4" r="14.6"/><circle cx="85" cy="14.4" r="14.6"/><path d="M0.8 66 C0.6 48 7 35 17.5 32.6 L25.2 40.6 L33 32.6 C43 35 50 48 50 70 Q28 80 23 75.5 Q8 73 0.8 66 Z"/><path d="M109.4 66 C109.6 48 103.2 35 92.7 32.6 L85 40.6 L77.2 32.6 C67.2 35 60.2 48 60.2 70 Q82.2 80 87.2 75.5 Q102.2 73 109.4 66 Z"/></g><g fill="url(#gg2724)" stroke="#0e2640" stroke-width="4.6"><circle cx="55.4" cy="25.6" r="16.4" /><path d="M27.6 82 C27.6 60 34.5 47.2 45.6 44.8 L55.6 55.6 L65.6 44.8 C76.7 47.2 83.4 60 83.4 82 Q55.5 101 27.6 82 Z"/></g></svg>
<svg class="a" style="left:3242.5px;top:1714.0px;overflow:visible;filter:drop-shadow(0 0 5px rgba(0,0,0,0.25))" width="122" height="106" viewBox="-6 -6 122 106"><defs><linearGradient id="gg3303" x1="0" y1="0" x2="0" y2="1"><stop offset="0" stop-color="#bdbec0"/><stop offset="0.55" stop-color="#a3a5a7"/><stop offset="1" stop-color="#7a7c7f"/></linearGradient></defs><g fill="#0f9fdc" stroke="#0a3a2c" stroke-width="2" stroke-opacity="0.7"><circle cx="25.2" cy="14.4" r="14.6"/><circle cx="85" cy="14.4" r="14.6"/><path d="M0.8 66 C0.6 48 7 35 17.5 32.6 L25.2 40.6 L33 32.6 C43 35 50 48 50 70 Q28 80 23 75.5 Q8 73 0.8 66 Z"/><path d="M109.4 66 C109.6 48 103.2 35 92.7 32.6 L85 40.6 L77.2 32.6 C67.2 35 60.2 48 60.2 70 Q82.2 80 87.2 75.5 Q102.2 73 109.4 66 Z"/></g><g fill="url(#gg3303)" stroke="#0a3a2c" stroke-width="4.6"><circle cx="55.4" cy="25.6" r="16.4" /><path d="M27.6 82 C27.6 60 34.5 47.2 45.6 44.8 L55.6 55.6 L65.6 44.8 C76.7 47.2 83.4 60 83.4 82 Q55.5 101 27.6 82 Z"/></g></svg>
<div class="a" style="left:428px;top:1835px;width:737px;height:90px;background:linear-gradient(90deg,#b11d62 0px,#a81c5c 200px,#ab1f6a 400px,#a8218a 485px,#a1289a 520px,#9a2a96 690px,#84207f 725px);z-index:0"></div>
<svg class="a" style="left:300px;top:1838px;" width="150" height="89" viewBox="0 0 150 89"><path d="M0 0 H128 L147 45 L128 89 H0 Z" fill="#f9d312"/></svg>
<div class="t" style="left:301.5px;top:1852.5px;font-size:62px;color:#111;transform:scaleX(1.1034);-webkit-text-stroke:1.2px #111;">NTP</div>
<div class="a" style="left:1182px;top:1835px;width:369px;height:90px;background:linear-gradient(90deg,#8d4aa8 0%,#7f30a0 40%,#7a2797 90%,#5e1f78 100%);"></div>
<div class="a" style="left:1570px;top:1835px;width:757px;height:90px;background:linear-gradient(90deg,#42449c 0%,#363790 15%,#2e3187 60%,#263580 100%);"></div>
<div class="a" style="left:2346px;top:1835px;width:756px;height:90px;background:linear-gradient(90deg,#42788a 0%,#2f6b80 25%,#1a6178 50%,#137366 75%,#117460 100%);"></div>
<div class="a" style="left:3121px;top:1835px;width:367px;height:90px;background:linear-gradient(90deg,#3f8a72 0%,#1f7a60 25%,#12745c 100%);"></div>
<div class="a" style="left:1165px;top:1835px;width:17px;height:90px;background:linear-gradient(90deg,#8e8f91 0%,#b5b6b8 30%,#e6e7e6 75%,#f7f7f5 100%);"></div>
<div class="a" style="left:1551px;top:1835px;width:19px;height:90px;background:linear-gradient(90deg,#8e8f91 0%,#b5b6b8 30%,#e6e7e6 75%,#f7f7f5 100%);"></div>
<div class="a" style="left:2327px;top:1835px;width:19px;height:90px;background:linear-gradient(90deg,#8e8f91 0%,#b5b6b8 30%,#e6e7e6 75%,#f7f7f5 100%);"></div>
<div class="a" style="left:3102px;top:1835px;width:19px;height:90px;background:linear-gradient(90deg,#8e8f91 0%,#b5b6b8 30%,#e6e7e6 75%,#f7f7f5 100%);"></div>
<div class="a" style="left:1182px;top:1836px;width:369px;height:2px;background:rgba(225,215,230,0.75);"></div>
<div class="a" style="left:2346px;top:1836px;width:368px;height:2px;background:rgba(215,225,230,0.75);"></div>
<div class="a" style="left:440px;top:1921px;width:3048px;height:4px;background:rgba(30,10,30,0.45);"></div>
<div class="t" style="left:660.3px;top:1850.3px;font-size:62px;color:#fff;transform:scaleX(1.0889);-webkit-text-stroke:1.3px #fff;">PHASE I</div>
<div class="t" style="left:1232.3px;top:1851.0px;font-size:62px;color:#fff;transform:scaleX(1.0785);-webkit-text-stroke:1.3px #fff;">PHASE II</div>
<div class="t" style="left:1806.0px;top:1850.5px;font-size:62px;color:#fff;transform:scaleX(1.0724);-webkit-text-stroke:1.3px #fff;">PHASE III</div>
<div class="t" style="left:2579.1px;top:1850.5px;font-size:62px;color:#fff;transform:scaleX(1.0722);-webkit-text-stroke:1.3px #fff;">PHASE IV</div>
<div class="t" style="left:3160.6px;top:1850.2px;font-size:62px;color:#fff;transform:scaleX(1.0811);-webkit-text-stroke:1.3px #fff;">PHASE V</div>
<div class="a" style="left:16px;top:1924px;width:3474px;height:150px;background:#5b5b5d;"></div>
<div class="a" style="left:25px;top:1933px;width:3465px;height:140px;background:#838386;"></div>
<div class="t" style="left:1093.0px;top:1936.0px;font-size:64px;letter-spacing:7px;font-weight:bold;color:#fafafa;transform:scaleX(0.7508);">Public Involvement / Stakeholder Coordination</div>
<div class="t" style="left:580.3px;top:2007.8px;font-size:65px;color:#fbfbfb;transform:scaleX(0.7486);">Technical Advisory Committee</div>
<div class="t" style="left:1297.9px;top:2007.8px;font-size:65px;color:#fbfbfb;transform:scaleX(0.7426);">Public Workshops</div>
<div class="t" style="left:1752.8px;top:2007.8px;font-size:65px;color:#fbfbfb;transform:scaleX(0.7455);">Public Awareness Program</div>
<div class="t" style="left:2407.0px;top:2007.8px;font-size:65px;color:#fbfbfb;transform:scaleX(0.7316);">Website</div>
<div class="t" style="left:2647.3px;top:2007.8px;font-size:65px;color:#fbfbfb;transform:scaleX(0.7470);">Newsletters</div>
<div class="a" style="left:1261.8px;top:2019px;width:3.2px;height:52px;background:#f4f4f4;"></div>
<div class="a" style="left:1716.7px;top:2019px;width:3.2px;height:52px;background:#f4f4f4;"></div>
<div class="a" style="left:2366.4px;top:2019px;width:3.2px;height:52px;background:#f4f4f4;"></div>
<div class="a" style="left:2612.0px;top:2019px;width:3.2px;height:52px;background:#f4f4f4;"></div>
<div class="a" style="left:2409px;top:2078px;width:304px;height:13px;background:#e4f2f4;"></div>
</body></html>
